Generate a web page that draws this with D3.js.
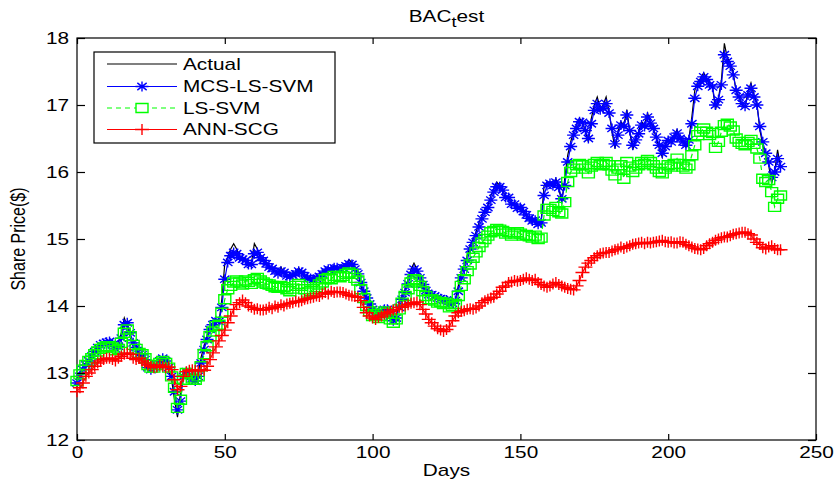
<!DOCTYPE html>
<html><head><meta charset="utf-8">
<script src="https://cdn.jsdelivr.net/npm/d3@7"></script>
<style>body{margin:0;background:#fff}svg{display:block}text{font-family:"Liberation Sans",Arial,sans-serif;fill:#000}</style>
</head><body><svg id="c" width="836" height="486"></svg>
<script>
const actual = [
12.90,13.00,13.09,13.15,13.20,13.30,13.35,13.40,13.42,13.45,
13.49,13.45,13.38,13.34,13.45,13.60,13.82,13.70,13.54,13.40,
13.35,13.24,13.30,13.15,13.05,13.04,13.10,13.15,13.20,13.24,
13.15,13.04,12.90,12.60,12.34,12.70,13.04,13.00,12.95,12.90,
12.85,13.00,13.24,13.40,13.55,13.69,13.75,13.80,13.75,14.10,
14.64,14.73,14.85,14.93,14.85,14.75,14.73,14.70,14.65,14.64,
14.93,14.85,14.73,14.70,14.65,14.60,14.58,14.52,14.49,14.58,
14.50,14.43,14.45,14.48,14.50,14.57,14.50,14.43,14.40,14.42,
14.39,14.42,14.45,14.50,14.55,14.58,14.55,14.60,14.58,14.55,
14.60,14.62,14.69,14.65,14.55,14.49,14.30,14.19,14.09,14.00,
13.90,13.95,13.85,13.90,14.00,13.95,13.80,13.75,13.85,14.05,
14.15,14.25,14.40,14.55,14.64,14.55,14.40,14.30,14.20,14.15,
14.20,14.15,14.10,14.12,14.08,14.10,14.00,14.05,14.10,14.30,
14.50,14.60,14.75,14.90,15.00,15.10,15.25,15.35,15.45,15.50,
15.65,15.75,15.85,15.80,15.75,15.60,15.65,15.50,15.55,15.45,
15.50,15.40,15.35,15.30,15.25,15.30,15.20,15.25,15.80,15.85,
15.85,15.80,15.90,15.75,15.55,15.90,16.25,16.45,16.60,16.70,
16.80,16.75,16.60,16.45,16.80,17.00,17.12,16.95,17.00,17.12,
16.90,16.60,16.35,16.60,16.75,16.70,16.93,16.60,16.33,16.50,
16.60,16.75,16.70,16.88,16.75,16.65,16.50,16.35,16.22,16.40,
16.50,16.45,16.55,16.63,16.50,16.45,16.37,16.50,16.82,17.22,
17.35,17.40,17.48,17.40,17.30,17.27,16.93,17.10,17.37,17.92,
17.70,17.63,17.48,17.20,17.12,17.00,16.97,17.20,17.33,17.15,
17.03,16.63,16.40,16.22,16.10,15.83,16.00,16.33,16.08];

const mcsLsSvm = [
12.85,12.95,13.05,13.12,13.18,13.25,13.32,13.38,13.42,13.44,
13.46,13.47,13.42,13.36,13.40,13.52,13.72,13.75,13.60,13.45,
13.38,13.28,13.27,13.20,13.08,13.05,13.08,13.12,13.18,13.22,
13.18,13.08,12.95,12.72,12.45,12.58,12.95,13.02,12.97,12.92,
12.88,12.95,13.15,13.35,13.50,13.65,13.72,13.78,13.77,13.98,
14.40,14.65,14.75,14.80,14.78,14.72,14.70,14.68,14.62,14.62,
14.78,14.80,14.72,14.68,14.63,14.58,14.56,14.52,14.48,14.52,
14.50,14.45,14.44,14.46,14.48,14.52,14.50,14.45,14.41,14.41,
14.40,14.41,14.44,14.48,14.52,14.55,14.54,14.57,14.57,14.55,
14.57,14.60,14.63,14.62,14.55,14.48,14.35,14.22,14.12,14.03,
13.95,13.93,13.88,13.88,13.95,13.95,13.85,13.78,13.82,13.98,
14.10,14.20,14.33,14.47,14.55,14.52,14.42,14.32,14.23,14.17,
14.17,14.15,14.12,14.11,14.09,14.09,14.03,14.04,14.08,14.22,
14.42,14.55,14.68,14.85,14.95,15.05,15.18,15.30,15.40,15.47,
15.58,15.70,15.78,15.78,15.73,15.62,15.62,15.52,15.52,15.46,
15.47,15.41,15.36,15.31,15.27,15.28,15.22,15.24,15.65,15.80,
15.83,15.80,15.85,15.77,15.60,15.80,16.15,16.38,16.55,16.65,
16.75,16.74,16.62,16.50,16.72,16.92,17.02,16.93,16.95,17.02,
16.88,16.65,16.42,16.55,16.70,16.68,16.85,16.62,16.40,16.48,
16.57,16.70,16.68,16.82,16.73,16.65,16.52,16.40,16.28,16.38,
16.47,16.45,16.52,16.58,16.50,16.45,16.40,16.48,16.72,17.10,
17.28,17.35,17.42,17.38,17.30,17.27,17.00,17.08,17.30,17.75,
17.65,17.58,17.45,17.22,17.12,17.02,16.98,17.15,17.25,17.12,
17.00,16.68,16.45,16.28,16.15,15.92,16.00,16.20,16.08];

const lsSvm = [
12.88,12.98,13.05,13.12,13.18,13.22,13.28,13.32,13.36,13.38,
13.40,13.40,13.38,13.34,13.36,13.45,13.60,13.65,13.55,13.42,
13.36,13.30,13.28,13.22,13.12,13.08,13.08,13.12,13.15,13.18,
13.15,13.08,12.95,12.78,12.48,12.60,12.90,13.00,12.98,12.92,
12.90,12.95,13.10,13.28,13.40,13.55,13.62,13.70,13.72,13.90,
14.10,14.25,14.30,14.35,14.38,14.35,14.32,14.38,14.36,14.33,
14.40,14.42,14.38,14.35,14.33,14.32,14.30,14.28,14.27,14.30,
14.28,14.25,14.22,14.26,14.30,14.33,14.30,14.25,14.20,14.22,
14.25,14.28,14.32,14.35,14.40,14.42,14.40,14.45,14.45,14.43,
14.45,14.48,14.50,14.48,14.42,14.38,14.25,14.12,14.00,13.92,
13.85,13.88,13.82,13.85,13.92,13.90,13.80,13.75,13.80,13.95,
14.05,14.15,14.25,14.35,14.40,14.38,14.30,14.22,14.15,14.10,
14.10,14.08,14.05,14.06,14.03,14.05,13.98,14.00,14.03,14.15,
14.30,14.40,14.52,14.62,14.72,14.80,14.88,14.95,15.00,15.05,
15.10,15.12,15.15,15.14,15.12,15.08,15.10,15.05,15.08,15.10,
15.08,15.05,15.06,15.04,15.02,15.05,15.00,15.02,15.35,15.45,
15.45,15.42,15.48,15.40,15.38,15.55,15.85,16.00,16.05,16.10,
16.12,16.10,16.05,15.98,16.08,16.12,16.15,16.10,16.12,16.15,
16.10,16.02,15.95,16.05,16.10,15.90,16.15,16.08,16.00,16.05,
16.10,16.15,16.12,16.18,16.15,16.10,16.05,16.00,15.98,16.05,
16.10,16.08,16.12,16.20,16.12,16.08,16.05,16.10,16.25,16.40,
16.55,16.60,16.65,16.60,16.55,16.58,16.36,16.45,16.60,16.70,
16.72,16.68,16.62,16.50,16.45,16.42,16.40,16.45,16.48,16.42,
16.35,16.20,15.90,15.85,15.88,15.70,15.48,15.60,15.65];

const annScg = [
12.72,12.78,12.85,12.95,13.00,13.05,13.10,13.15,13.18,13.20,
13.22,13.22,13.20,13.18,13.22,13.25,13.28,13.30,13.28,13.22,
13.20,13.22,13.18,13.15,13.12,13.10,13.08,13.09,13.12,13.10,
13.08,13.09,13.05,12.90,12.75,12.80,12.95,13.02,13.04,13.05,
13.04,13.03,13.05,13.04,13.10,13.20,13.30,13.39,13.48,13.56,
13.64,13.75,13.85,13.95,14.02,14.05,14.09,14.05,14.00,13.98,
13.95,13.96,13.94,13.94,13.95,13.98,13.96,14.00,13.98,14.02,
14.00,14.03,14.04,14.05,14.07,14.06,14.08,14.10,14.11,14.12,
14.13,14.15,14.14,14.18,14.20,14.18,14.22,14.20,14.21,14.21,
14.20,14.18,14.16,14.15,14.14,14.13,14.08,13.98,13.90,13.85,
13.82,13.80,13.83,13.85,13.88,13.90,13.92,13.94,13.95,13.98,
13.98,14.00,14.02,14.04,14.05,14.06,14.02,13.95,13.88,13.80,
13.75,13.70,13.66,13.64,13.62,13.65,13.70,13.78,13.85,13.90,
13.92,13.93,13.95,13.96,13.95,13.97,14.00,14.05,14.08,14.10,
14.12,14.13,14.18,14.22,14.28,14.30,14.35,14.36,14.38,14.37,
14.38,14.40,14.42,14.40,14.38,14.40,14.35,14.32,14.30,14.28,
14.30,14.33,14.35,14.32,14.30,14.28,14.26,14.25,14.24,14.30,
14.38,14.50,14.58,14.64,14.68,14.72,14.75,14.78,14.79,14.80,
14.80,14.82,14.84,14.85,14.88,14.86,14.88,14.90,14.92,14.93,
14.94,14.95,14.93,14.95,14.94,14.95,14.96,14.97,14.98,14.96,
14.95,14.96,14.94,14.94,14.96,14.95,14.92,14.90,14.88,14.86,
14.85,14.84,14.86,14.90,14.93,14.95,14.98,15.00,15.02,15.03,
15.03,15.05,15.07,15.08,15.09,15.10,15.10,15.08,15.06,15.00,
14.95,14.92,14.87,14.85,14.88,14.90,14.86,14.84,14.84];

const xTicks = [0, 50, 100, 150, 200, 250];
const yTicks = [12, 13, 14, 15, 16, 17, 18];
const seriesNames = ["Actual", "MCS-LS-SVM", "LS-SVM", "ANN-SCG"];
const titleParts = ["BAC", "t", "est"];
const xLabel = "Days";
const yLabel = "Share Price($)";

const SX = 1.3;      // horizontal stretch of the original figure
const FS = 16;
const svg = d3.select("#c");
const x = d3.scaleLinear().domain([0, 250]).range([77, 816]);
const y = d3.scaleLinear().domain([12, 18]).range([440, 38]);

const markers = {
  star: (hw, hh) => `M${-hw},0H${hw}M0,${-hh}V${hh}M${-hw*0.72},${-hh*0.72}L${hw*0.72},${hh*0.72}M${-hw*0.72},${hh*0.72}L${hw*0.72},${-hh*0.72}`,
  square: (hw, hh) => `M${-hw},${-hh}H${hw}V${hh}H${-hw}Z`,
  plus: (hw, hh) => `M${-hw},0H${hw}M0,${-hh}V${hh}`
};
const series = [
  {name: seriesNames[0], data: actual, color: "#000000", marker: null, dash: null},
  {name: seriesNames[1], data: mcsLsSvm, color: "#0000ff", marker: "star", hw: 6.5, hh: 5, dash: null},
  {name: seriesNames[2], data: lsSvm, color: "#00ff00", marker: "square", hw: 6, hh: 4.5, dash: "5,4"},
  {name: seriesNames[3], data: annScg, color: "#ff0000", marker: "plus", hw: 7, hh: 5.5, dash: null}
];

// axes box
svg.append("rect").attr("x", x(0)).attr("y", y(18)).attr("width", x(250) - x(0)).attr("height", y(12) - y(18))
  .attr("fill", "#fff").attr("stroke", "#000").attr("stroke-width", 1.2);

// data
const line = d3.line().x((d, i) => x(i)).y(d => y(d));
series.forEach(s => {
  const g = svg.append("g");
  g.append("path").attr("d", line(s.data)).attr("fill", "none").attr("stroke", s.color)
    .attr("stroke-width", 1.2).attr("stroke-dasharray", s.dash);
  if (s.marker) {
    g.selectAll("path.m").data(s.data).join("path").attr("class", "m")
      .attr("d", markers[s.marker](s.hw, s.hh))
      .attr("transform", (d, i) => `translate(${x(i)},${y(d)})`)
      .attr("fill", "none").attr("stroke", s.color).attr("stroke-width", 1.4);
  }
});

// axes
function styleAxis(g) {
  g.select(".domain").remove();
  g.selectAll(".tick line").attr("stroke", "#000").attr("stroke-width", 1.2);
  g.selectAll("text").attr("font-size", FS).attr("font-family", "Liberation Sans, Arial, sans-serif").attr("fill", "#000");
}
const gx = svg.append("g").attr("transform", `translate(0,${y(12)})`)
  .call(d3.axisBottom(x).tickValues(xTicks).tickSize(-6).tickPadding(7).tickFormat(d3.format("d")));
styleAxis(gx);
gx.selectAll("text").attr("transform", `scale(${SX},1)`);
const gxt = svg.append("g").attr("transform", `translate(0,${y(18)})`)
  .call(d3.axisTop(x).tickValues(xTicks).tickSize(-6).tickFormat(""));
styleAxis(gxt);
const gy = svg.append("g").attr("transform", `translate(${x(0)},0)`)
  .call(d3.axisLeft(y).tickValues(yTicks).tickSize(-8).tickPadding(8).tickFormat(d3.format("d")));
styleAxis(gy);
gy.selectAll("text").attr("x", -8 / SX).attr("transform", `scale(${SX},1)`);
const gyr = svg.append("g").attr("transform", `translate(${x(250)},0)`)
  .call(d3.axisRight(y).tickValues(yTicks).tickSize(-8).tickFormat(""));
styleAxis(gyr);

// title
const t = svg.append("text").attr("text-anchor", "middle").attr("font-size", 16)
  .attr("transform", `translate(${(x(0) + x(250)) / 2},22) scale(${SX},1)`);
t.append("tspan").text(titleParts[0]);
t.append("tspan").attr("dy", 5).attr("font-size", 14).text(titleParts[1]);
t.append("tspan").attr("dy", -5).text(titleParts[2]);

// axis labels
svg.append("text").attr("text-anchor", "middle").attr("font-size", FS)
  .attr("transform", `translate(${(x(0) + x(250)) / 2},476) scale(${SX},1)`).text(xLabel);
svg.append("text").attr("text-anchor", "middle").attr("font-size", FS)
  .attr("transform", `translate(25,${(y(12) + y(18)) / 2}) rotate(-90) scale(1,${SX})`).text(yLabel);

// legend
const lg = svg.append("g");
lg.append("rect").attr("x", 94).attr("y", 52).attr("width", 241).attr("height", 91)
  .attr("fill", "#fff").attr("stroke", "#000").attr("stroke-width", 1.2);
const rowY = [64, 86.5, 108, 129.5];
series.forEach((s, i) => {
  const r = lg.append("g").attr("transform", `translate(0,${rowY[i]})`);
  r.append("line").attr("x1", 107).attr("x2", 177).attr("y1", 0).attr("y2", 0)
    .attr("stroke", s.color).attr("stroke-width", 1.2).attr("stroke-dasharray", s.dash);
  if (s.marker) r.append("path").attr("d", markers[s.marker](s.hw, s.hh))
    .attr("transform", "translate(142,0)").attr("fill", s.marker === "square" ? "#fff" : "none")
    .attr("stroke", s.color).attr("stroke-width", 1.4);
  r.append("text").attr("font-size", FS).attr("dy", "0.35em")
    .attr("transform", `translate(183,0) scale(${SX},1)`).text(s.name);
});
</script></body></html>
